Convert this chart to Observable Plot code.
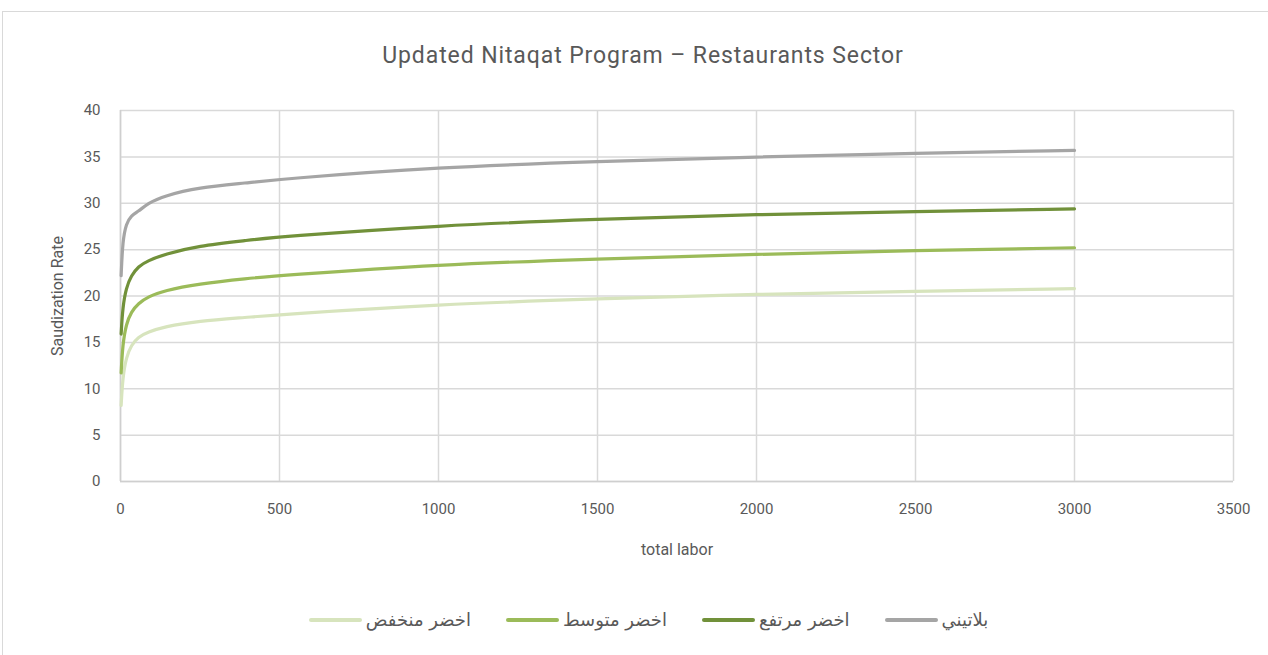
<!DOCTYPE html>
<html>
<head>
<meta charset="utf-8">
<script src="https://cdn.jsdelivr.net/npm/d3@7"></script>
<script src="https://cdn.jsdelivr.net/npm/@observablehq/plot@0.6"></script>
<style>
  body { margin: 0; background: #fff; }
  #wrap { position: relative; width: 1268px; height: 655px; overflow: hidden; font-family: Roboto, "DejaVu Sans", sans-serif; }
  #frame { position: absolute; left: 2px; top: 11px; width: 1300px; height: 700px; border: 1px solid #D9D9D9; box-sizing: border-box; }
  #title { position: absolute; top: 42px; left: 0; width: 1286px; text-align: center; font-size: 23px; color: #595959; letter-spacing: 0.9px; }
  #chart { position: absolute; left: 0; top: 90px; }
  #legend { position: absolute; top: 609px; left: 0; width: 1297px; display: flex; justify-content: center; align-items: center; gap: 35px; }
  .item { display: flex; align-items: center; gap: 4px; }
  .sw { width: 53px; height: 4px; border-radius: 2px; }
  .lab { font-family: "DejaVu Sans", sans-serif; font-size: 18px; color: #595959; }
</style>
</head>
<body>
<div id="wrap">
  <div id="frame"></div>
  <div id="title"></div>
  <div id="chart"></div>
  <div id="legend"></div>
</div>
<script>
const titleText = "Updated Nitaqat Program – Restaurants Sector";
const xLabel = "total labor";
const yLabel = "Saudization Rate";
const seriesNames = ["بلاتيني", "اخضر مرتفع", "اخضر متوسط", "اخضر منخفض"];
const seriesColors = ["#A5A5A5", "#71913A", "#9BBB59", "#D7E4BD"];
const xTicks = [0, 500, 1000, 1500, 2000, 2500, 3000, 3500];
const yTicks = [0, 5, 10, 15, 20, 25, 30, 35, 40];

const totalLabor = [2, 7, 18, 34, 56, 86, 138, 243, 400, 500, 1000, 1500, 2000, 2500, 3000];
const platinum   = [22.2, 26.0, 27.8, 28.7, 29.1, 30.0, 30.8, 31.7, 32.2, 32.6, 33.9, 34.5, 35.0, 35.4, 35.7];
const greenHigh  = [15.9, 18.8, 20.9, 22.2, 23.2, 23.8, 24.5, 25.4, 26.0, 26.4, 27.6, 28.3, 28.8, 29.1, 29.4];
const greenMid   = [11.7, 14.8, 17.0, 18.3, 19.2, 19.9, 20.6, 21.3, 21.9, 22.2, 23.4, 24.0, 24.5, 24.9, 25.2];
const greenLow   = [8.2, 11.2, 13.4, 14.7, 15.6, 16.1, 16.7, 17.3, 17.7, 18.0, 19.1, 19.7, 20.2, 20.5, 20.8];

const seriesValues = [platinum, greenHigh, greenMid, greenLow];
const data = [];
seriesNames.forEach((s, i) => {
  totalLabor.forEach((x, j) => data.push({series: s, x, y: seriesValues[i][j]}));
});
// draw lightest first so darker lines overlay
const drawOrder = [3, 2, 1, 0].map(i => seriesNames[i]);
const ordered = drawOrder.flatMap(s => data.filter(d => d.series === s));

document.getElementById("title").textContent = titleText;

const chart = Plot.plot({
  width: 1268,
  height: 490,
  marginLeft: 120,
  marginRight: 35,
  marginTop: 20,
  marginBottom: 99,
  style: { fontFamily: "Roboto, sans-serif", fontSize: "15px", color: "#595959", background: "transparent" },
  x: { domain: [0, 3500] },
  y: { domain: [0, 40] },
  color: { domain: seriesNames, range: seriesColors },
  marks: [
    Plot.gridX(xTicks, { stroke: "#D9D9D9", strokeOpacity: 1, strokeWidth: 1.5 }),
    Plot.gridY(yTicks, { stroke: "#D9D9D9", strokeOpacity: 1, strokeWidth: 1.5 }),
    Plot.ruleX([0], { stroke: "#CFCFCF", strokeWidth: 1.5 }),
    Plot.ruleY([0], { stroke: "#CFCFCF", strokeWidth: 1.5 }),
    Plot.axisX(xTicks, { tickSize: 0, tickPadding: 22, label: null, tickFormat: d => String(d), fontSize: 15 }),
    Plot.axisY(yTicks, { tickSize: 0, tickPadding: 20, label: null, tickFormat: d => String(d), fontSize: 15 }),
    Plot.text([xLabel], { frameAnchor: "bottom", dy: 68, lineAnchor: "middle", textAnchor: "middle", fontSize: 16, fill: "#595959" }),
    Plot.text([yLabel], { frameAnchor: "left", dx: -63, rotate: -90, lineAnchor: "middle", textAnchor: "middle", fontSize: 16, fill: "#595959" }),
    Plot.line(ordered, { x: "x", y: "y", z: "series", stroke: "series", strokeWidth: 3.2, curve: "basis" })
  ]
});
document.getElementById("chart").appendChild(chart);

const legend = document.getElementById("legend");
[3, 2, 1, 0].forEach(i => {
  const item = document.createElement("div");
  item.className = "item";
  const sw = document.createElement("span");
  sw.className = "sw";
  sw.style.background = seriesColors[i];
  const lab = document.createElement("span");
  lab.className = "lab";
  lab.dir = "rtl";
  lab.textContent = seriesNames[i];
  item.appendChild(sw);
  item.appendChild(lab);
  legend.appendChild(item);
});
</script>
</body>
</html>
